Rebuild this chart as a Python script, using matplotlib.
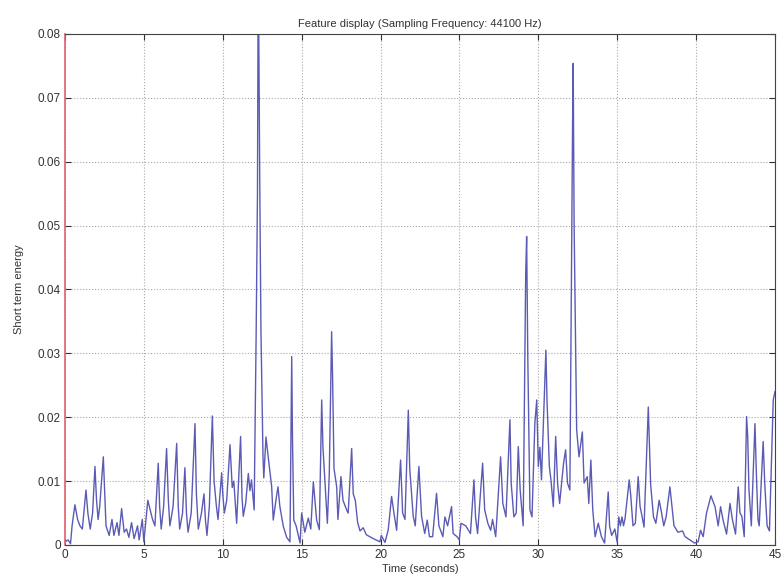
import matplotlib
matplotlib.use('Agg')
import matplotlib.pyplot as plt

# short term energy, peaks and troughs along the recording
t = [0.0, 0.2, 0.35, 0.45, 0.63, 0.8, 0.95, 1.1, 1.33, 1.45, 1.6, 1.75, 1.9, 2.0,
     2.1, 2.2, 2.43, 2.52, 2.6, 2.8, 2.98, 3.1, 3.3, 3.42, 3.59, 3.75, 3.9, 4.05,
     4.22, 4.38, 4.6, 4.7, 4.9, 5.0, 5.25, 5.4, 5.55, 5.7, 5.91, 6.0, 6.1, 6.25,
     6.44, 6.55, 6.65, 6.85, 7.08, 7.18, 7.27, 7.45, 7.6, 7.7, 7.8, 8.0, 8.24,
     8.33, 8.45, 8.65, 8.81, 8.9, 9.0, 9.15, 9.34, 9.45, 9.6, 9.7, 9.93, 10.0,
     10.1, 10.25, 10.46, 10.6, 10.7, 10.88, 11.13, 11.22, 11.3, 11.45, 11.62,
     11.72, 11.82, 11.92, 11.99, 12.12, 12.2, 12.25, 12.35, 12.42, 12.55, 12.6,
     12.74, 12.88, 13.1, 13.2, 13.37, 13.5, 13.62, 13.84, 14.05, 14.26, 14.37,
     14.42, 14.5, 14.65, 14.9, 15.0, 15.2, 15.42, 15.58, 15.74, 15.95, 16.12,
     16.27, 16.35, 16.63, 16.75, 16.9, 16.96, 17.05, 17.22, 17.3, 17.49, 17.62,
     17.85, 17.95, 18.17, 18.27, 18.4, 18.55, 18.7, 18.9, 19.1, 19.54, 19.96,
     20.05, 20.28, 20.49, 20.7, 20.85, 21.02, 21.27, 21.4, 21.55, 21.76, 21.85,
     22.07, 22.2, 22.43, 22.6, 22.8, 22.96, 23.1, 23.3, 23.55, 23.7, 23.95,
     24.08, 24.25, 24.5, 24.6, 24.85, 24.99, 25.1, 25.4, 25.7, 25.92, 26.02,
     26.15, 26.47, 26.6, 26.8, 26.98, 27.1, 27.3, 27.61, 27.75, 27.95, 28.2,
     28.28, 28.45, 28.6, 28.73, 28.85, 29.04, 29.2, 29.26, 29.33, 29.47, 29.6,
     29.78, 29.9, 30.0, 30.1, 30.2, 30.48, 30.55, 30.7, 30.8, 30.95, 31.1,
     31.22, 31.35, 31.6, 31.73, 31.85, 32.0, 32.12, 32.17, 32.21, 32.27, 32.43,
     32.58, 32.79, 32.9, 33.1, 33.2, 33.33, 33.45, 33.6, 33.8, 34.0, 34.2,
     34.43, 34.52, 34.65, 34.85, 35.0, 35.1, 35.2, 35.3, 35.4, 35.5, 35.76,
     35.85, 36.0, 36.15, 36.33, 36.45, 36.55, 36.7, 36.97, 37.03, 37.12, 37.3,
     37.45, 37.66, 37.8, 37.95, 38.1, 38.34, 38.45, 38.6, 38.85, 39.14, 39.3,
     39.6, 39.9, 40.13, 40.28, 40.45, 40.66, 40.94, 41.2, 41.4, 41.55, 41.7,
     41.93, 42.15, 42.3, 42.5, 42.67, 42.78, 42.9, 43.05, 43.2, 43.27, 43.35,
     43.5, 43.73, 43.82, 43.92, 44.0, 44.25, 44.35, 44.5, 44.65, 44.89, 45.0]

energy = [0.0005, 0.0008, 0.0002, 0.003, 0.0063, 0.004, 0.003, 0.0025, 0.0086,
          0.005, 0.0025, 0.005, 0.0123, 0.007, 0.004, 0.006, 0.0138, 0.008,
          0.003, 0.0015, 0.004, 0.0015, 0.0035, 0.0015, 0.0057, 0.002, 0.0025,
          0.0012, 0.0035, 0.001, 0.003, 0.0008, 0.004, 0.0005, 0.007, 0.0055,
          0.004, 0.003, 0.0128, 0.006, 0.0025, 0.006, 0.0151, 0.007, 0.003,
          0.006, 0.0159, 0.006, 0.0025, 0.005, 0.0121, 0.005, 0.002, 0.005,
          0.019, 0.008, 0.0025, 0.005, 0.008, 0.004, 0.0015, 0.006, 0.0202,
          0.01, 0.006, 0.004, 0.0113, 0.008, 0.005, 0.007, 0.0157, 0.009, 0.01,
          0.0034, 0.017, 0.0075, 0.0045, 0.0065, 0.0112, 0.0085, 0.0102, 0.0075,
          0.0055, 0.034, 0.055, 0.092, 0.055, 0.0337, 0.0138, 0.0105, 0.0169,
          0.0138, 0.0091, 0.0039, 0.007, 0.0091, 0.006, 0.0029, 0.0012, 0.0005,
          0.0295, 0.0165, 0.0039, 0.003, 0.0003, 0.005, 0.002, 0.0042, 0.0025,
          0.0099, 0.0039, 0.0024, 0.0227, 0.0153, 0.0034, 0.011, 0.0334, 0.0264,
          0.012, 0.0091, 0.004, 0.0107, 0.007, 0.0055, 0.005, 0.0151, 0.008,
          0.007, 0.0035, 0.0022, 0.0027, 0.0016, 0.001, 0.0005, 0.0015, 0.0004,
          0.0024, 0.0076, 0.005, 0.0023, 0.0133, 0.005, 0.004, 0.0211, 0.012,
          0.0045, 0.003, 0.0123, 0.0045, 0.0018, 0.0039, 0.0013, 0.0013, 0.0081,
          0.003, 0.0013, 0.0044, 0.003, 0.006, 0.0018, 0.0013, 0.0008, 0.0034,
          0.003, 0.0018, 0.0102, 0.0044, 0.0018, 0.0128, 0.0055, 0.0034, 0.0023,
          0.004, 0.0013, 0.0138, 0.0065, 0.0044, 0.0196, 0.0097, 0.0044, 0.005,
          0.0154, 0.0086, 0.003, 0.0425, 0.0483, 0.03, 0.0055, 0.0044, 0.019,
          0.0227, 0.0123, 0.0153, 0.0102, 0.0305, 0.0227, 0.0123, 0.0102, 0.006,
          0.017, 0.0097, 0.0065, 0.0128, 0.0149, 0.0097, 0.0086, 0.0498, 0.0655,
          0.0754, 0.0498, 0.018, 0.0138, 0.0177, 0.0097, 0.0107, 0.0065, 0.0133,
          0.0055, 0.0013, 0.0034, 0.0013, 0.0003, 0.0083, 0.0029, 0.0015, 0.0025,
          0.0004, 0.0044, 0.003, 0.0044, 0.003, 0.0042, 0.0102, 0.008, 0.003,
          0.0034, 0.0107, 0.006, 0.0048, 0.0028, 0.0216, 0.0167, 0.0094, 0.0044,
          0.0034, 0.007, 0.0052, 0.003, 0.0044, 0.0091, 0.0065, 0.003, 0.002,
          0.0022, 0.0013, 0.0008, 0.0003, 0.0005, 0.0023, 0.0013, 0.005, 0.0077,
          0.006, 0.003, 0.006, 0.004, 0.0017, 0.0065, 0.004, 0.0017, 0.0091,
          0.005, 0.0045, 0.0013, 0.0201, 0.017, 0.0087, 0.003, 0.019, 0.0112,
          0.004, 0.003, 0.0162, 0.0097, 0.003, 0.0022, 0.0227, 0.024]

xticks = [0, 5, 10, 15, 20, 25, 30, 35, 40, 45]
yticks = [0, 0.01, 0.02, 0.03, 0.04, 0.05, 0.06, 0.07, 0.08]
ylabels = ['0', '0.01', '0.02', '0.03', '0.04', '0.05', '0.06', '0.07', '0.08']

plt.rcParams['font.family'] = ['Liberation Sans', 'DejaVu Sans']

fig = plt.figure(figsize=(7.81, 5.84), dpi=100)
ax = fig.add_axes([0.0832, 0.0668, 0.9091, 0.875])

ax.plot(t, energy, color='#5b5bb5', lw=1.0)

ax.set_xlim(0, 45)
ax.set_ylim(0, 0.08)
ax.set_xticks(xticks)
ax.set_yticks(yticks)
ax.set_yticklabels(ylabels)
ax.tick_params(direction='in', top=True, right=True, length=4,
               labelsize=8.5, color='#333333', labelcolor='#333333', pad=3)
ax.grid(True, linestyle=':', color='#aaaaaa', lw=0.8)

for s in ['top', 'right', 'bottom']:
    ax.spines[s].set_color('#444444')
ax.spines['left'].set_color('#e0606e')
ax.spines['left'].set_linewidth(1.2)

ax.set_title('Feature display (Sampling Frequency: 44100 Hz)', fontsize=8,
             color='#333333', pad=5)
ax.set_xlabel('Time (seconds)', fontsize=8, color='#333333', labelpad=2)
ax.set_ylabel('Short term energy', fontsize=8, color='#333333', labelpad=10)

fig.savefig('out.png', dpi=100)
